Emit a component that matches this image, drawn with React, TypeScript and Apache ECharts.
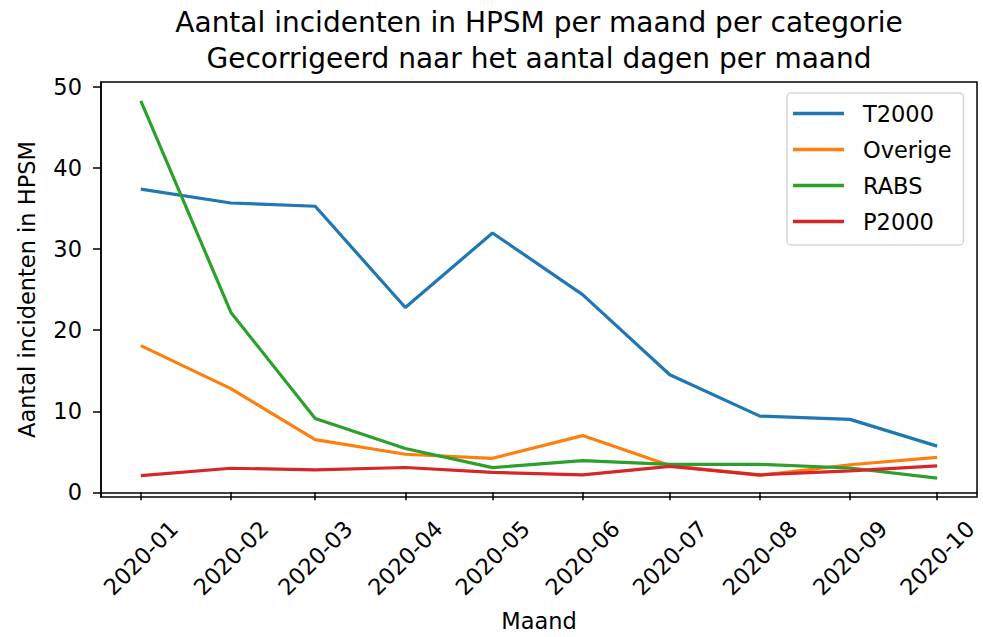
import React, { useEffect, useRef } from "react";
import * as echarts from "echarts";

const months = ["2020-01", "2020-02", "2020-03", "2020-04", "2020-05", "2020-06", "2020-07", "2020-08", "2020-09", "2020-10"];
const t2000 = [37.4, 35.7, 35.3, 22.8, 32.0, 24.4, 14.5, 9.4, 9.0, 5.7];
const overige = [18.1, 12.8, 6.5, 4.7, 4.2, 7.0, 3.3, 2.1, 3.4, 4.3];
const rabs = [48.3, 22.2, 9.1, 5.4, 3.05, 3.9, 3.45, 3.45, 3.0, 1.75];
const p2000 = [2.05, 2.97, 2.77, 3.06, 2.45, 2.16, 3.2, 2.16, 2.65, 3.26];
const yTicks = [0, 10, 20, 30, 40, 50];

const seriesNames = ["T2000", "Overige", "RABS", "P2000"];
const seriesColors = ["#1f77b4", "#ff7f0e", "#2ca02c", "#d62728"];
const seriesValues = [t2000, overige, rabs, p2000];

const FONT = "DejaVu Sans";
const FS = 22.5;

export default function App() {
  const ref = useRef<HTMLDivElement>(null);
  useEffect(() => {
    if (!ref.current) return;
    const chart = echarts.init(ref.current, undefined, { renderer: "svg" });
    const times = months.map((m) => Date.UTC(+m.slice(0, 4), +m.slice(5, 7) - 1, 1));
    const span = times[times.length - 1] - times[0];
    const allVals = seriesValues.flat();
    const vMin = Math.min(...allVals);
    const vMax = Math.max(...allVals);
    const vSpan = vMax - vMin;
    const fmt = (v: number) => {
      const d = new Date(v);
      const mm = String(d.getUTCMonth() + 1).padStart(2, "0");
      return `${d.getUTCFullYear()}-${mm}`;
    };
    chart.setOption({
      animation: false,
      backgroundColor: "#ffffff",
      title: {
        text: "Aantal incidenten in HPSM per maand per categorie\nGecorrigeerd naar het aantal dagen per maand",
        left: 539,
        top: 5,
        padding: 0,
        textAlign: "center",
        textStyle: { fontFamily: FONT, fontSize: 28, lineHeight: 35.5, fontWeight: "normal", color: "#000" },
      },
      legend: {
        orient: "vertical",
        left: 787,
        top: 93,
        padding: [9, 12, 12, 6],
        itemGap: 13,
        itemWidth: 51,
        itemHeight: 3.3,
        icon: "rect",
        backgroundColor: "rgba(255,255,255,0.8)",
        borderColor: "#d6d6d6",
        borderWidth: 1.5,
        borderRadius: 4,
        textStyle: { fontFamily: FONT, fontSize: FS, lineHeight: 22, color: "#000", padding: [0, 0, 0, 14] },
        data: seriesNames,
      },
      grid: {
        left: 101,
        right: 6,
        top: 82,
        bottom: 139,
        show: true,
        borderColor: "#000",
        borderWidth: 1.5,
        containLabel: false,
      },
      xAxis: {
        type: "value",
        min: times[0] - 0.05 * span,
        max: times[times.length - 1] + 0.05 * span,
        axisLine: { show: true, lineStyle: { color: "#000", width: 1.5 } },
        axisTick: { show: true, customValues: times, length: 8, lineStyle: { color: "#000", width: 1.5 } },
        axisLabel: {
          customValues: times,
          rotate: 45,
          align: "center",
          verticalAlign: "middle",
          margin: 61,
          formatter: (v: number) => fmt(v),
          fontFamily: FONT,
          fontSize: FS,
          color: "#000",
        },
        splitLine: { show: false },
        name: "Maand",
        nameLocation: "middle",
        nameGap: 112,
        nameTextStyle: { fontFamily: FONT, fontSize: FS, color: "#000" },
      },
      yAxis: {
        type: "value",
        min: vMin - 0.05 * vSpan,
        max: vMax + 0.05 * vSpan,
        axisLine: { show: true, lineStyle: { color: "#000", width: 1.5 } },
        axisTick: { show: true, customValues: yTicks, length: 8, lineStyle: { color: "#000", width: 1.5 } },
        axisLabel: {
          customValues: yTicks,
          margin: 19,
          fontFamily: FONT,
          fontSize: FS,
          color: "#000",
        },
        splitLine: { show: false },
        name: "Aantal incidenten in HPSM",
        nameLocation: "middle",
        nameGap: 63,
        nameTextStyle: { fontFamily: FONT, fontSize: FS, color: "#000" },
      },
      series: seriesNames.map((name, i) => ({
        name,
        type: "line",
        data: seriesValues[i].map((v, j) => [times[j], v]),
        showSymbol: false,
        symbol: "none",
        lineStyle: { color: seriesColors[i], width: 3.2 },
        itemStyle: { color: seriesColors[i] },
        z: 2 + i,
      })),
    });
    return () => chart.dispose();
  }, []);
  return <div ref={ref} style={{ position: "fixed", left: 0, top: 0, width: 983, height: 637 }} />;
}
